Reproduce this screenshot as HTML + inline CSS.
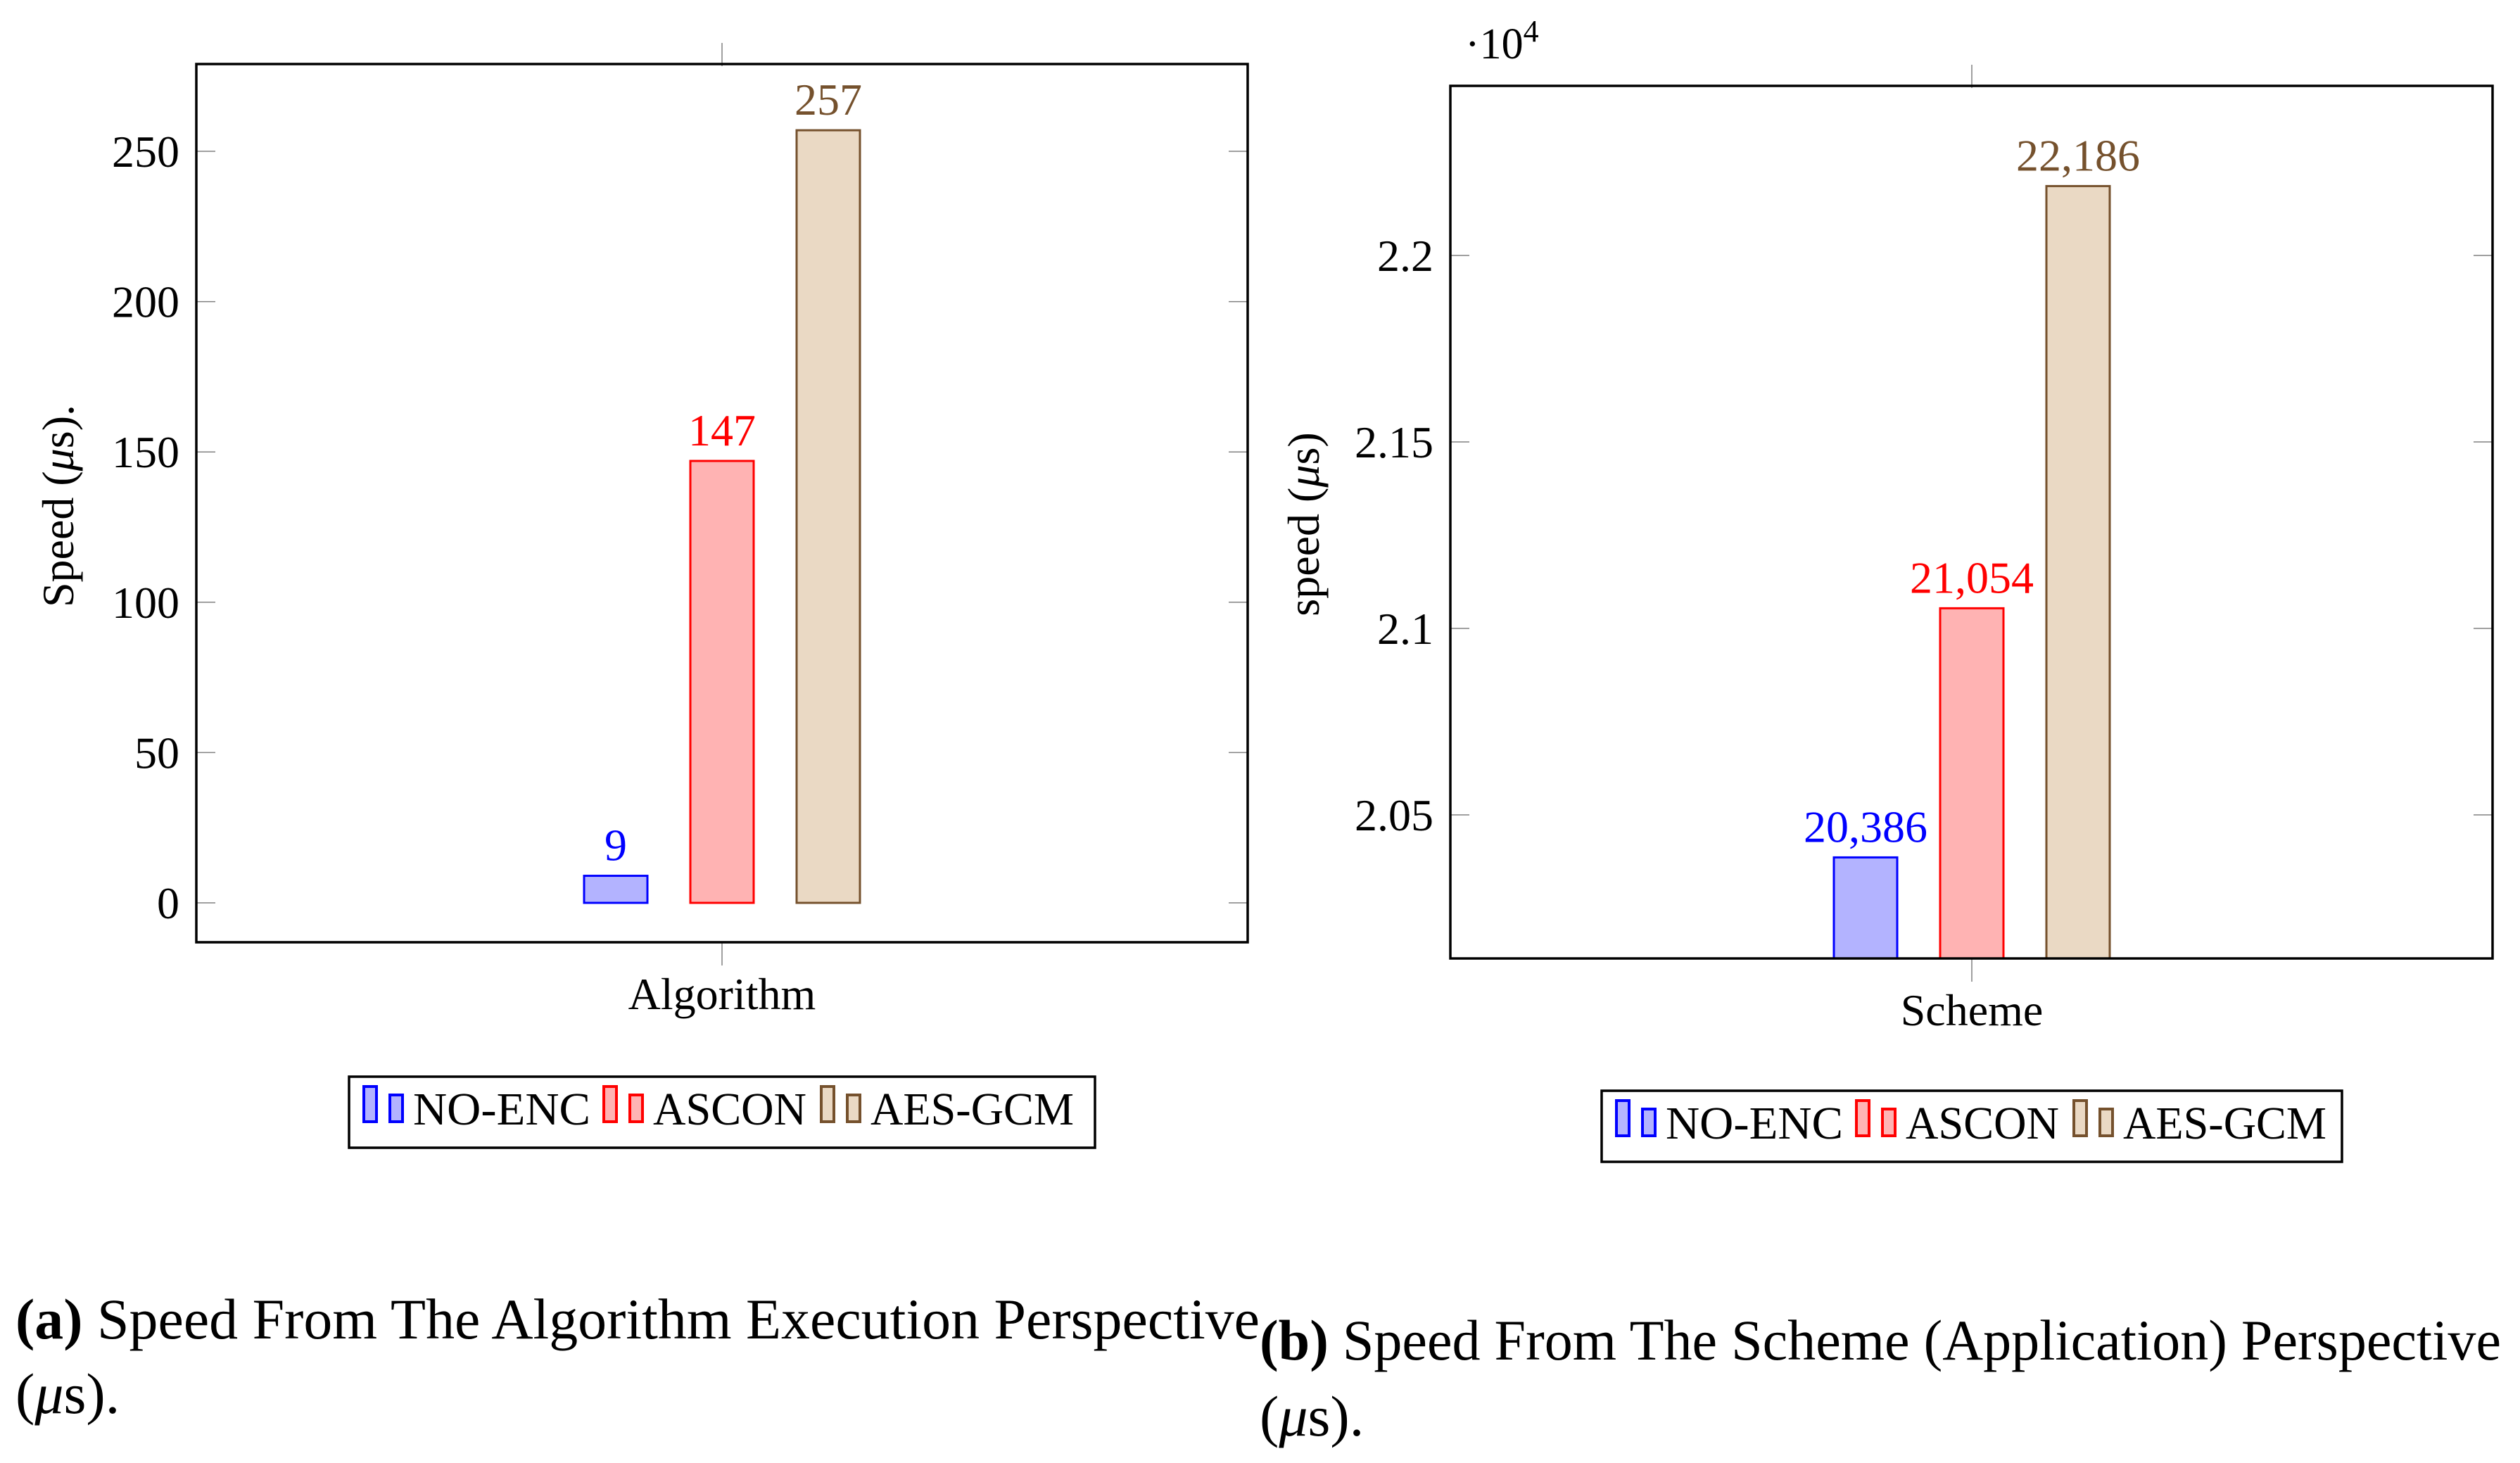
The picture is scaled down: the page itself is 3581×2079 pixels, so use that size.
<!DOCTYPE html>
<html><head><meta charset="utf-8">
<style>
html,body{margin:0;padding:0;background:#fff;}
svg{display:block;font-family:"Liberation Serif",serif;}
</style></head>
<body>
<svg id="fig" width="3581" height="2079" viewBox="0 0 3581 2079" xmlns="http://www.w3.org/2000/svg">
<rect x="0" y="0" width="3581" height="2079" fill="#fff"/>
<g id="chartA"></g>
<g id="chartB"></g>
</svg>
<script>
const seriesNames = ["NO-ENC", "ASCON", "AES-GCM"];
const valuesA = [9, 147, 257];
const labelsA = ["9", "147", "257"];
const ticksA = [0, 50, 100, 150, 200, 250];
const tickLabelsA = ["0", "50", "100", "150", "200", "250"];
const valuesB = [20386, 21054, 22186];
const labelsB = ["20,386", "21,054", "22,186"];
const ticksB = [20500, 21000, 21500, 22000];
const tickLabelsB = ["2.05", "2.1", "2.15", "2.2"];

const strokes = ["#0000ff", "#ff0000", "#75512d"];
const fills = ["#b3b3ff", "#ffb3b3", "#ead9c4"];
const NS = "http://www.w3.org/2000/svg";

function mk(parent, tag, attrs, text) {
  const e = document.createElementNS(NS, tag);
  for (const k in attrs) e.setAttribute(k, attrs[k]);
  if (text !== undefined) e.textContent = text;
  parent.appendChild(e);
  return e;
}

function drawChart(g, cfg) {
  const y = v => cfg.y0 + (v - cfg.v0) * cfg.scale;
  cfg.ticks.forEach((t, i) => {
    const ty = y(t);
    const l1 = mk(g, "line", {x1: cfg.left, x2: cfg.left + 27, y1: ty, y2: ty, stroke: "#808080", "stroke-width": 1.5});
    
    
    const l2 = mk(g, "line", {x1: cfg.right - 27, x2: cfg.right, y1: ty, y2: ty, stroke: "#808080", "stroke-width": 1.5});
    
    
    const tl = mk(g, "text", {x: cfg.left - 24, y: ty + 22, "font-size": 64, "text-anchor": "end"}, cfg.tickLabels[i]);
    
    
  });
  const xt1 = mk(g, "line", {x1: cfg.cx, x2: cfg.cx, y1: cfg.top - 30, y2: cfg.top + 3, stroke: "#808080", "stroke-width": 1.5});
  
  
  const xt2 = mk(g, "line", {x1: cfg.cx, x2: cfg.cx, y1: cfg.bottom, y2: cfg.bottom + 33, stroke: "#808080", "stroke-width": 1.5});
  
  
  cfg.values.forEach((v, i) => {
    const bx = cfg.cx + (i - 1) * 151 - 45;
    const base = cfg.baseVal !== undefined ? y(cfg.baseVal) : cfg.bottom;
    const top = y(v);
    const b = mk(g, "rect", {x: bx, y: top, width: 90, height: base - top, fill: fills[i], stroke: strokes[i], "stroke-width": 3});
    
    
    const t = mk(g, "text", {x: bx + 45, y: top - 22, "font-size": 64, "text-anchor": "middle", fill: strokes[i]}, cfg.labels[i]);
    
    
  });
  const f = mk(g, "rect", {x: cfg.left, y: cfg.top, width: cfg.right - cfg.left, height: cfg.bottom - cfg.top, fill: "none", stroke: "#000", "stroke-width": 3.5});
  
  
  const xl = mk(g, "text", {x: cfg.cx, y: cfg.xLabelY, "font-size": 64, "text-anchor": "middle"}, cfg.xLabel);
  
  
  const yl = mk(g, "text", {x: 0, y: 0, "font-size": 64, "text-anchor": "middle", transform: `translate(${cfg.yLabelX},${cfg.yLabelY}) rotate(-90)`});
  
  
  yl.appendChild(document.createTextNode(cfg.yLabelPre));
  mk(yl, "tspan", {"font-style": "italic"}, "μ");
  yl.appendChild(document.createTextNode(cfg.yLabelPost));
  const lg = mk(g, "g", {});
  
  
  const L = cfg.legend;
  mk(lg, "rect", {x: L.x, y: L.y, width: L.w, height: L.h, fill: "#fff", stroke: "#000", "stroke-width": 3.5});
  const offs = [0, 341, 650];
  const textW = [252, 218, 289];
  seriesNames.forEach((n, i) => {
    const ox = L.x + 19 + offs[i];
    const e = mk(lg, "g", {});
    
    
    mk(e, "rect", {x: ox + 2, y: L.y + 14, width: 18, height: 50, fill: fills[i], stroke: strokes[i], "stroke-width": 4});
    mk(e, "rect", {x: ox + 39, y: L.y + 26, width: 18, height: 38, fill: fills[i], stroke: strokes[i], "stroke-width": 4});
    mk(e, "text", {x: ox + 72, y: L.y + 68, "font-size": 66, textLength: textW[i], lengthAdjust: "spacingAndGlyphs"}, n);
  });
}

drawChart(document.getElementById("chartA"), {
  left: 279, right: 1773, top: 91, bottom: 1339, cx: 1026,
  y0: 1283, v0: 0, scale: -213.6 / 50,
  ticks: ticksA, tickLabels: tickLabelsA, values: valuesA, labels: labelsA, baseVal: 0,
  xLabel: "Algorithm", xLabelY: 1434,
  yLabelX: 104, yLabelY: 719, yLabelPre: "Speed (", yLabelPost: "s).",
  legend: {x: 496, y: 1530, w: 1060, h: 101}
});
drawChart(document.getElementById("chartB"), {
  left: 2061, right: 3542, top: 122, bottom: 1362, cx: 2802,
  y0: 1158, v0: 20500, scale: -265 / 500,
  ticks: ticksB, tickLabels: tickLabelsB, values: valuesB, labels: labelsB,
  xLabel: "Scheme", xLabelY: 1457,
  yLabelX: 1874, yLabelY: 745, yLabelPre: "speed (", yLabelPost: "s)",
  legend: {x: 2276, y: 1550, w: 1052, h: 101}
});

const svg = document.getElementById("fig");
const exp = mk(svg, "text", {x: 2082, y: 83, "font-size": 62});


exp.appendChild(document.createTextNode("·10"));
mk(exp, "tspan", {"font-size": 44, dy: -24}, "4");

function caption(x, y1, y2, tag, rest, w) {
  const g = mk(svg, "g", {});
  
  
  const t = mk(g, "text", {x: x, y: y1, "font-size": 82, textLength: w, lengthAdjust: "spacingAndGlyphs"});
  mk(t, "tspan", {"font-weight": "bold"}, tag);
  t.appendChild(document.createTextNode(" " + rest));
  const t2 = mk(g, "text", {x: x, y: y2, "font-size": 82});
  t2.appendChild(document.createTextNode("("));
  mk(t2, "tspan", {"font-style": "italic"}, "μ");
  t2.appendChild(document.createTextNode("s)."));
}
caption(22, 1902, 2008, "(a)", "Speed From The Algorithm Execution Perspective", 1768);
caption(1790, 1932, 2040, "(b)", "Speed From The Scheme (Application) Perspective", 1764);
</script>
</body></html>
